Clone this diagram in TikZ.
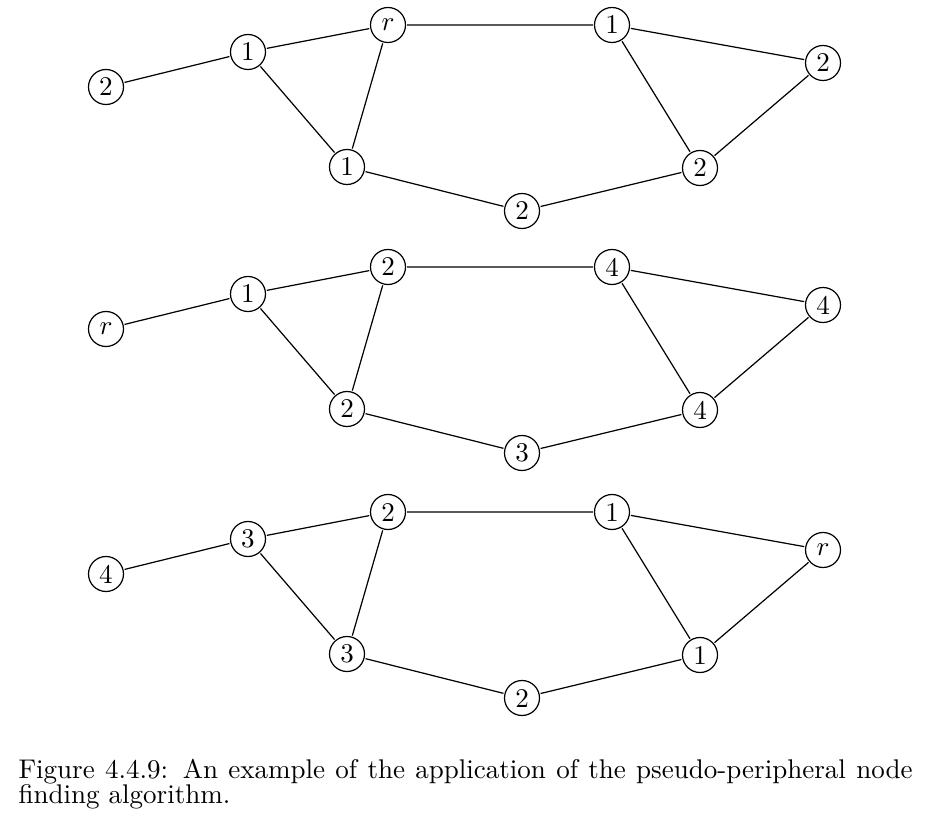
\documentclass[tikz,border=0pt]{standalone}
\begin{document}
\begin{tikzpicture}[x=0.37pt,y=-0.37pt,
  vtx/.style={draw,circle,minimum size=12.95pt,inner sep=0pt,line width=0.45pt,outer sep=0.6pt},
  edge/.style={line width=0.45pt},
  captext/.style={anchor=base west,inner sep=0pt}]
\useasboundingbox (0,0) rectangle (942,833);
% graph 1
\begin{scope}[shift={(0,0)}]
\node[vtx] (a1) at (106,87) {2};
\node[vtx] (b1) at (248,52) {1};
\node[vtx] (c1) at (388,25) {$r$};
\node[vtx] (d1) at (347,167) {1};
\node[vtx] (e1) at (612,25) {1};
\node[vtx] (f1) at (823,63) {2};
\node[vtx] (g1) at (700,168) {2};
\node[vtx] (h1) at (522,211) {2};
\end{scope}
\draw[edge] (a1)--(b1) (b1)--(c1) (b1)--(d1) (c1)--(d1) (c1)--(e1) (e1)--(f1) (e1)--(g1) (f1)--(g1) (g1)--(h1) (d1)--(h1);
% graph 2
\begin{scope}[shift={(0,242)}]
\node[vtx] (a2) at (106,87) {$r$};
\node[vtx] (b2) at (248,52) {1};
\node[vtx] (c2) at (388,25) {2};
\node[vtx] (d2) at (347,167) {2};
\node[vtx] (e2) at (612,25) {4};
\node[vtx] (f2) at (823,63) {4};
\node[vtx] (g2) at (700,168) {4};
\node[vtx] (h2) at (522,211) {3};
\end{scope}
\draw[edge] (a2)--(b2) (b2)--(c2) (b2)--(d2) (c2)--(d2) (c2)--(e2) (e2)--(f2) (e2)--(g2) (f2)--(g2) (g2)--(h2) (d2)--(h2);
% graph 3
\begin{scope}[shift={(0,487)}]
\node[vtx] (a3) at (106,87) {4};
\node[vtx] (b3) at (248,52) {3};
\node[vtx] (c3) at (388,25) {2};
\node[vtx] (d3) at (347,167) {3};
\node[vtx] (e3) at (612,25) {1};
\node[vtx] (f3) at (823,63) {$r$};
\node[vtx] (g3) at (700,168) {1};
\node[vtx] (h3) at (522,211) {2};
\end{scope}
\draw[edge] (a3)--(b3) (b3)--(c3) (b3)--(d3) (c3)--(d3) (c3)--(e3) (e3)--(f3) (e3)--(g3) (f3)--(g3) (g3)--(h3) (d3)--(h3);
% caption
\node[captext] (cap1) at (18,778) {\makebox[330.8pt][s]{Figure 4.4.9: An example of the application of the pseudo-peripheral node}};
\node[captext] (cap2) at (18,803) {finding algorithm.};
\end{tikzpicture}
\end{document}
